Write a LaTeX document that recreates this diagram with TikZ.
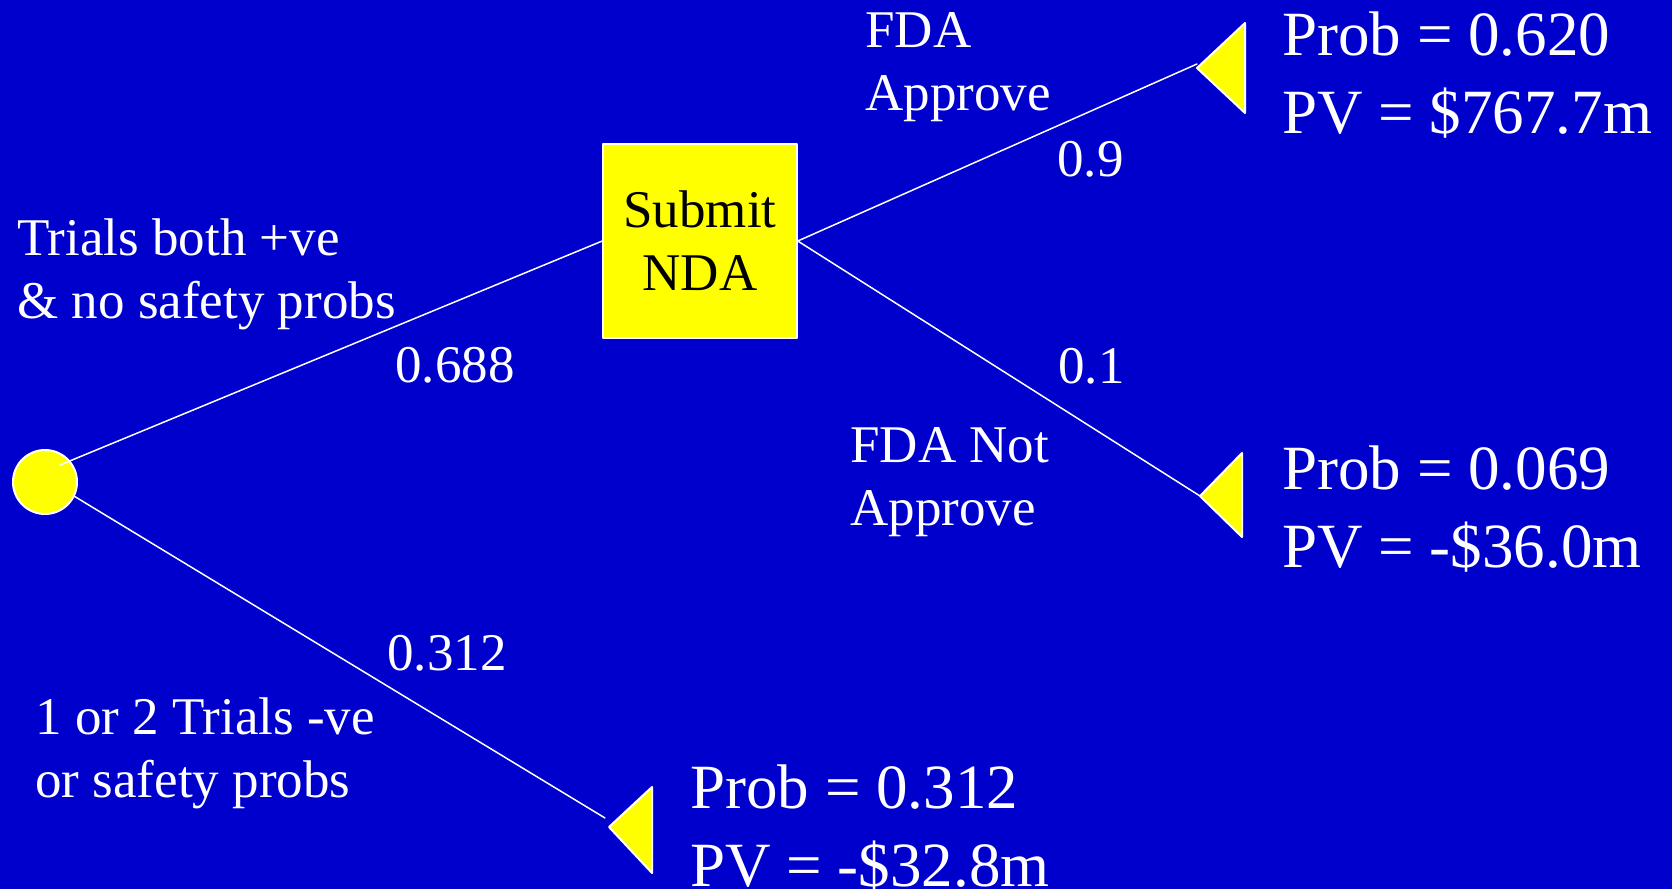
\documentclass[tikz,border=0pt]{standalone}
\usepackage{fontspec}
\setmainfont{Liberation Serif}
\definecolor{slideblue}{RGB}{0,0,204}
\definecolor{nodeyellow}{RGB}{255,255,0}
\newcommand{\smalltxt}{\fontsize{26.5}{31.5}\selectfont}
\newcommand{\bigtxt}{\fontsize{31.5}{39}\selectfont}
\begin{document}
\begin{tikzpicture}[x=0.5pt, y=-0.5pt, line cap=round, line join=round,
    chancenode/.style={circle, fill=nodeyellow, draw=white, line width=1pt,
      minimum size=32pt, inner sep=0pt},
    decisionnode/.style={rectangle, fill=nodeyellow, draw=white, line width=0.75pt,
      minimum size=97pt, inner sep=0pt, align=center, text=black, font=\smalltxt},
    leaf/.style={fill=nodeyellow, draw=white, line width=1pt},
    branch/.style={white, line width=0.75pt},
    lbl/.style={text=white, inner sep=0pt, anchor=base west, align=left, font=\smalltxt},
    payoff/.style={text=white, inner sep=0pt, anchor=base west, align=left, font=\bigtxt}]
  \useasboundingbox (0,0) rectangle (1672,889);
  \fill[slideblue] (0,0) rectangle (1672,889);
  % end points
  \coordinate (leafA) at (1197,68);
  \coordinate (leafB) at (1200,496);
  \coordinate (leafC) at (609,827);
  \draw[leaf] (leafA) -- ++(48,-45) -- ++(0,90) -- cycle;
  \draw[leaf] (leafB) -- ++(42,-43) -- ++(0,84) -- cycle;
  \draw[leaf] (leafC) -- ++(43,-40) -- ++(0,86) -- cycle;
  % nodes
  \node[chancenode] (chance) at (45,482) {};
  \node[decisionnode] (submit) at (700,241) {Submit\\NDA};
  % branches
  \draw[branch] ([shift={(15,-17)}]chance.center) -- (submit.west);
  \draw[branch] (chance.-26) -- ([shift={(-4,-9)}]leafC);
  \draw[branch] (submit.east) -- ([shift={(0,-4)}]leafA);
  \draw[branch] (submit.east) -- (leafB);
  % labels (base = last line)
  \node[lbl] (trialsok) at (17,318) {Trials both +ve\\\& no safety probs};
  \node[lbl] (pok) at (395,382) {0.688};
  \node[lbl] (trialsbad) at (35,797) {1 or 2 Trials -ve\\or safety probs};
  \node[lbl] (pbad) at (387,670) {0.312};
  \node[lbl] (approve) at (865,110) {FDA\\Approve};
  \node[lbl] (papprove) at (1057,176) {0.9};
  \node[lbl] (notapprove) at (850,525) {FDA Not\\Approve};
  \node[lbl] (pnot) at (1058,383) {0.1};
  % payoffs
  \node[payoff] (outA) at (1282,133) {Prob = 0.620\\PV = \$767.7m};
  \node[payoff] (outB) at (1282,567) {Prob = 0.069\\PV = -\$36.0m};
  \node[payoff] (outC) at (690,886) {Prob = 0.312\\PV = -\$32.8m};
\end{tikzpicture}
\end{document}
